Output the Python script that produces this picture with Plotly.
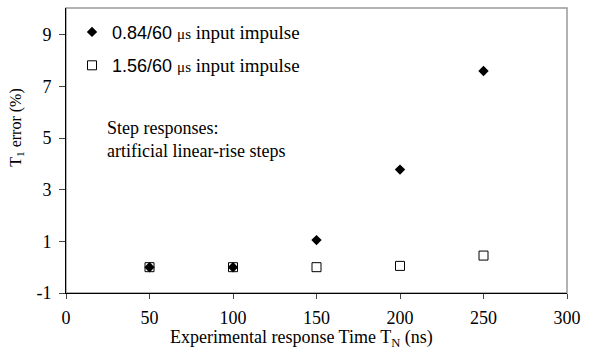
import plotly.graph_objects as go

x_vals = [50, 100, 150, 200, 250]
err_084 = [0.0, 0.0, 1.05, 3.78, 7.6]
err_156 = [0.0, 0.0, 0.0, 0.05, 0.45]
x_ticks = [0, 50, 100, 150, 200, 250, 300]
y_ticks = [-1, 1, 3, 5, 7, 9]
y_tick_labels = ["-1", "1", "3", "5", "7", "9"]

serif = "Liberation Serif, Times New Roman, serif"
sans = "Liberation Sans, Arial, sans-serif"


def legend_name(label):
    return ('<span style="font-family:Liberation Sans;font-size:18px">' + label + '</span> '
            '<span style="font-family:Liberation Serif;font-size:15px">μs</span>'
            '<span style="font-family:Liberation Serif;font-size:19px"> input impulse</span>')


fig = go.Figure()
fig.add_trace(go.Scatter(
    x=x_vals, y=err_156, mode="markers", name=legend_name("1.56/60"),
    marker=dict(symbol="square-open", size=9, color="black", line=dict(width=1, color="black")),
    legendgroup="b", legendrank=2))
fig.add_trace(go.Scatter(
    x=x_vals, y=err_084, mode="markers", name=legend_name("0.84/60"),
    marker=dict(symbol="diamond", size=8, color="black"),
    legendgroup="a", legendrank=1))

fig.add_annotation(
    x=0.0787, y=0.540, xref="paper", yref="paper", xanchor="left", yanchor="middle",
    text="Step responses:<br>artificial linear-rise steps", showarrow=False, align="left",
    font=dict(family=serif, size=18, color="black"))

fig.add_annotation(
    x=0.470, y=-0.158, xref="paper", yref="paper", xanchor="center", yanchor="middle",
    text="Experimental response Time T<sub>N</sub> (ns)", showarrow=False,
    font=dict(family=serif, size=18, color="black"))

fig.add_annotation(
    x=-0.0984, y=0.579, xref="paper", yref="paper", xanchor="center", yanchor="middle",
    text="T<sub>1</sub> error (%)", showarrow=False, textangle=-90,
    font=dict(family=serif, size=16, color="black"))

fig.update_layout(
    width=589, height=349,
    margin=dict(l=66, r=15, t=8, b=56),
    paper_bgcolor="white", plot_bgcolor="white",
    font=dict(family=serif, size=18, color="black"),
    showlegend=True,
    legend=dict(x=0.012, y=0.98, xanchor="left", yanchor="top",
                bgcolor="rgba(0,0,0,0)", font=dict(family=sans, size=18, color="black"),
                traceorder="grouped", tracegroupgap=7),
    xaxis=dict(range=[0, 300], tickvals=x_ticks, ticks="outside", ticklen=5,
               showline=True, linecolor="black", linewidth=1,
               showgrid=False, zeroline=False, ticklabelstandoff=3,
               tickfont=dict(family=serif, size=18)),
    yaxis=dict(range=[-1, 10.04], tickvals=y_ticks, ticktext=y_tick_labels,
               ticks="outside", ticklen=6,
               showline=True, linecolor="black", linewidth=1,
               showgrid=False, zeroline=False, ticklabelstandoff=4,
               tickfont=dict(family=serif, size=18)),
)
fig.add_shape(type="rect", xref="paper", yref="paper", x0=0, y0=0, x1=1, y1=1,
              line=dict(color="#999999", width=1.5), layer="below")

fig.write_html("out.html")
